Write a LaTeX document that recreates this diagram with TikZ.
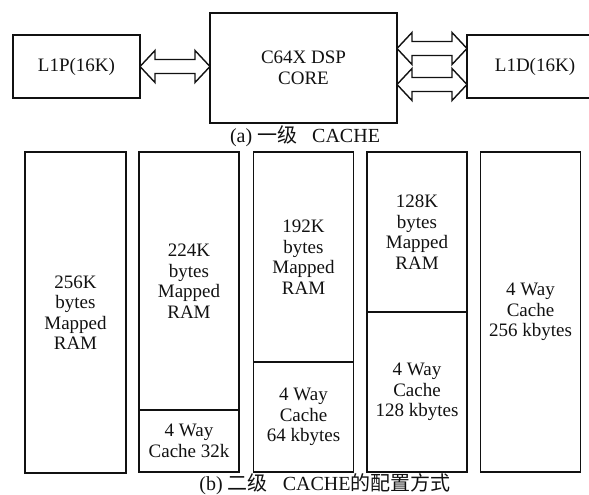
\documentclass[tikz,border=0pt]{standalone}
\usepackage{fontspec}
\setmainfont{Liberation Serif}
\newfontfamily\cjk{Noto Sans CJK SC}
\usetikzlibrary{positioning,calc}
\definecolor{cInk}{HTML}{111111}
\newcommand{\cfont}{\fontsize{19}{20.5}\selectfont}
\tikzset{
  blk/.style={draw=cInk, line width=1.6pt, align=center, inner sep=0pt,
              outer sep=0pt, font=\cfont, text=cInk},
  capt/.style={font=\fontsize{20}{22}\selectfont, text=cInk, inner sep=0pt},
  bus/.style={draw=cInk, line width=1.4pt, line join=miter},
}
% hollow two-headed bus arrow between two points on one level
\newcommand{\busarrow}[2]{%
  \draw[bus] let \p1=#1, \p2=#2 in
    (\x1,\y1) -- (\x1+15,\y1+16) -- (\x1+15,\y1+7) -- (\x2-15,\y1+7)
    -- (\x2-15,\y1+16) -- (\x2,\y1) -- (\x2-15,\y1-16) -- (\x2-15,\y1-7)
    -- (\x1+15,\y1-7) -- (\x1+15,\y1-16) -- cycle;}

\begin{document}
\begin{tikzpicture}[x=1pt,y=1pt]
  \useasboundingbox (0,0) rectangle (589,-495);
  % (a) level one
  \node[blk,minimum width=127pt,minimum height=63pt] (l1p) at (76.5,-66.5)
    {L1P(16K)};
  \node[blk,minimum width=187pt,minimum height=110pt] (core) at (303.5,-68)
    {C64X DSP\\CORE};
  \node[blk,minimum width=136pt,minimum height=63pt] (l1d) at (535,-66.5)
    {L1D(16K)};
  \busarrow{(l1p.east)}{(core.west |- l1p.east)}
  \busarrow{($(core.east |- l1d.west)+(0,18)$)}{($(l1d.west)+(0,18)$)}
  \busarrow{($(core.east |- l1d.west)+(0,-18)$)}{($(l1d.west)+(0,-18)$)}
  \node[capt] (capa) at (305,-136) {(a) {\cjk 一级}\ \ \ CACHE};

  % (b) level two
  \node[blk,minimum width=101pt,minimum height=321pt] (ramA) at (75.5,-312.5)
    {256K\\bytes\\Mapped\\RAM};
  \node[blk,minimum width=100pt,minimum height=258pt] (ramB) at (189,-281)
    {224K\\bytes\\Mapped\\RAM};
  \node[blk,minimum width=100pt,minimum height=62pt,below=0pt of ramB] (cacB)
    {4 Way\\Cache 32k};
  \node[blk,minimum width=100pt,minimum height=210pt] (ramC) at (303.5,-257)
    {192K\\bytes\\Mapped\\RAM};
  \node[blk,minimum width=100pt,minimum height=110pt,below=0pt of ramC] (cacC)
    {4 Way\\Cache\\64 kbytes};
  \node[blk,minimum width=100pt,minimum height=160pt] (ramD) at (417,-232)
    {128K\\bytes\\Mapped\\RAM};
  \node[blk,minimum width=100pt,minimum height=160pt,below=0pt of ramD] (cacD)
    {4 Way\\Cache\\128 kbytes};
  \node[blk,minimum width=100pt,minimum height=320pt] (cacE) at (530.5,-312)
    {4 Way\\Cache\\256 kbytes};
  \node[capt] (capb) at (325,-484) {(b) {\cjk 二级}\ \ \ CACHE{\cjk 的配置方式}};
\end{tikzpicture}
\end{document}
